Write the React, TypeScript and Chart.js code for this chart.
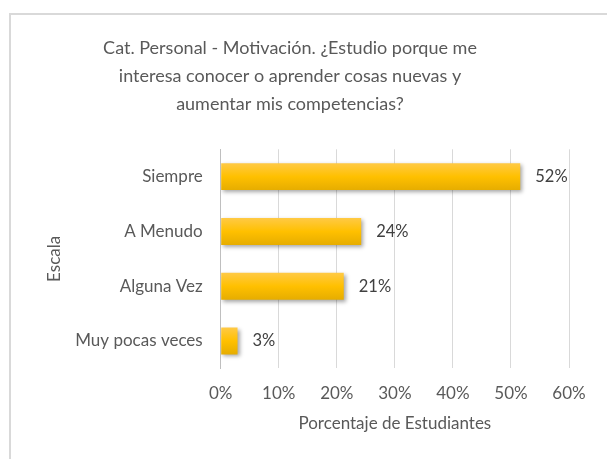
import React, { useEffect, useRef } from "react";
import { Chart, registerables } from "chart.js";

Chart.register(...registerables);

const categories = ["Siempre", "A Menudo", "Alguna Vez", "Muy pocas veces"];
const percentages = [51.6, 24.2, 21.2, 2.9];
const xTickValues = [0, 10, 20, 30, 40, 50, 60];
const titleLines = [
  "Cat. Personal - Motivación. ¿Estudio porque me",
  "interesa conocer o aprender cosas nuevas y",
  "aumentar mis competencias?",
];
const xAxisTitle = "Porcentaje de Estudiantes";
const yAxisTitle = "Escala";

const FONT = "Lato";
const TEXT = "#595959";

export default function App() {
  const ref = useRef<HTMLCanvasElement | null>(null);

  useEffect(() => {
    const canvas = ref.current;
    if (!canvas) return;

    const titlePlugin = {
      id: "customTitle",
      afterDraw(chart: any) {
        const ctx = chart.ctx;
        ctx.save();
        ctx.fillStyle = TEXT;
        ctx.font = `18px ${FONT}`;
        ctx.textAlign = "center";
        ctx.textBaseline = "middle";
        titleLines.forEach((line, i) => {
          ctx.fillText(line, 290, 48 + i * 28);
        });
        ctx.restore();
      },
    };

    const shadowPlugin = {
      id: "barShadow",
      beforeDatasetsDraw(chart: any) {
        const ctx = chart.ctx;
        ctx.save();
        ctx.shadowColor = "rgba(0,0,0,0.35)";
        ctx.shadowBlur = 4;
        ctx.shadowOffsetX = 2;
        ctx.shadowOffsetY = 2;
      },
      afterDatasetsDraw(chart: any) {
        chart.ctx.restore();
      },
    };

    const labelPlugin = {
      id: "valueLabels",
      afterDraw(chart: any) {
        const ctx = chart.ctx;
        const meta = chart.getDatasetMeta(0);
        ctx.save();
        ctx.fillStyle = "#404040";
        ctx.font = `16.5px ${FONT}`;
        ctx.textAlign = "left";
        ctx.textBaseline = "middle";
        meta.data.forEach((bar: any, i: number) => {
          const v = chart.data.datasets[0].data[i] as number;
          ctx.fillText(Math.round(v) + "%", bar.x + 15, bar.y);
        });
        ctx.restore();
      },
    };

    const chart = new Chart(canvas, {
      type: "bar",
      data: {
        labels: categories,
        datasets: [
          {
            data: percentages,
            backgroundColor: (c: any) => {
              const ch = c.chart;
              const ys = ch.scales && ch.scales.y;
              if (!ch.chartArea || !ys) return "#FFC000";
              const yc = ys.getPixelForValue(c.dataIndex);
              const g = ch.ctx.createLinearGradient(0, yc - 14, 0, yc + 14);
              g.addColorStop(0, "#FFCA48");
              g.addColorStop(0.5, "#FFC000");
              g.addColorStop(1, "#E5AC00");
              return g;
            },
            borderWidth: 0,
            categoryPercentage: 1,
            barPercentage: 0.49,
          },
        ],
      },
      options: {
        indexAxis: "y",
        animation: false,
        responsive: false,
        maintainAspectRatio: false,
        layout: { padding: { left: 40, right: 38, top: 149.3, bottom: 20 } },
        plugins: {
          legend: { display: false },
          title: { display: false },
          tooltip: { enabled: false },
        },
        scales: {
          x: {
            min: 0,
            max: 60,
            afterBuildTicks: (s: any) => {
              s.ticks = xTickValues.map((v) => ({ value: v }));
            },
            afterFit: (s: any) => {
              s.height = 459 - 20 - 368.4;
            },
            grid: { color: "#d9d9d9", lineWidth: 1, drawTicks: false },
            border: { display: false },
            ticks: {
              padding: 14.7,
              color: TEXT,
              font: { family: FONT, size: 17 },
              callback: (v: any) => v + "%",
            },
            title: {
              display: true,
              text: xAxisTitle,
              color: TEXT,
              font: { family: FONT, size: 17 },
              padding: { top: 0, bottom: 5.5 },
            },
          },
          y: {
            afterFit: (s: any) => {
              s.width = 220.7 - 40;
            },
            grid: { display: false, drawTicks: false },
            border: { display: true, color: "#bfbfbf", width: 1 },
            ticks: {
              padding: 18,
              color: TEXT,
              font: { family: FONT, size: 17 },
            },
            title: {
              display: true,
              text: yAxisTitle,
              color: TEXT,
              font: { family: FONT, size: 17 },
              padding: { top: 4.8, bottom: 0 },
            },
          },
        },
      },
      plugins: [titlePlugin, shadowPlugin, labelPlugin],
    } as any);

    return () => chart.destroy();
  }, []);

  return (
    <div
      style={{
        position: "fixed",
        left: 0,
        top: 0,
        width: 607,
        height: 459,
        overflow: "hidden",
        background: "#ffffff",
      }}
    >
      <div
        style={{
          position: "absolute",
          left: 9,
          top: 13,
          width: 800,
          height: 800,
          border: "2px solid #d9d9d9",
          boxSizing: "border-box",
        }}
      />
      <canvas
        ref={ref}
        width={607}
        height={459}
        style={{ position: "absolute", left: 0, top: 0, width: 607, height: 459 }}
      />
    </div>
  );
}
